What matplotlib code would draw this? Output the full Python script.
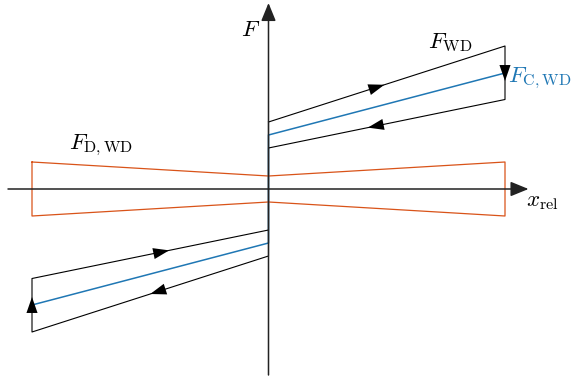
import numpy as np
import matplotlib
matplotlib.use('Agg')
import matplotlib.pyplot as plt

plt.rcParams['mathtext.fontset'] = 'cm'

# relative displacement (normalised stroke) and friction forces
x_pos = [0.0, 1.0]
wd_upper = [0.67, 1.43]     # loading branch of F_WD
wd_lower = [0.41, 0.895]    # unloading branch of F_WD
coulomb = [0.54, 1.16]      # F_C,WD
damping = [0.13, 0.27]      # half-width of F_D,WD

blue = '#1f77b4'
orange = '#D95319'

fig = plt.figure(figsize=(5.77, 3.77), dpi=100)
ax = fig.add_axes([0, 0, 1, 1])
ax.set_xlim(-268.5 / 236.5, (577 - 268.5) / 236.5)
ax.set_ylim(-(377 - 189) / 100, 189 / 100)
ax.axis('off')

x1 = x_pos[1]

# Coulomb part: point symmetric line through the origin jump
ax.plot([-x1, 0, 0, x1], [-coulomb[1], -coulomb[0], coulomb[0], coulomb[1]],
        color=blue, lw=1.1, zorder=2)

# hysteresis loop of the wet damper force
loop_x = [0, x1, x1, 0, 0, -x1, -x1, 0, 0]
loop_y = [wd_upper[0], wd_upper[1], wd_lower[1], wd_lower[0],
          -wd_upper[0], -wd_upper[1], -wd_lower[1], -wd_lower[0], wd_upper[0]]
ax.plot(loop_x, loop_y, color='black', lw=0.8, zorder=3)

# damping bow-tie
bx = [-x1, 0, x1, x1, 0, -x1, -x1]
by = [damping[1], damping[0], damping[1], -damping[1], -damping[0], -damping[1], damping[1]]
ax.plot(bx, by, color=orange, lw=0.9, zorder=3)


def head(p0, p1, t):
    # arrow head with its tip at fraction t of segment p0 -> p1
    p0 = np.array(p0); p1 = np.array(p1)
    tip = p0 + t * (p1 - p0)
    back = tip - 0.02 * (p1 - p0) / np.linalg.norm(p1 - p0)
    ax.annotate('', xy=tip, xytext=back,
                arrowprops=dict(arrowstyle='-|>,head_length=11.5,head_width=4.0',
                                mutation_scale=1, color='black', lw=0,
                                shrinkA=0, shrinkB=0), zorder=5)


# direction arrows on the loop
t_vert = (wd_upper[1] - coulomb[1] + 0.08) / (wd_upper[1] - wd_lower[1])
head((0, wd_upper[0]), (x1, wd_upper[1]), 0.49)
head((x1, wd_lower[1]), (0, wd_lower[0]), 0.58)
head((x1, wd_upper[1]), (x1, wd_lower[1]), t_vert)
head((0, -wd_upper[0]), (-x1, -wd_upper[1]), 0.50)
head((-x1, -wd_lower[1]), (0, -wd_lower[0]), 0.58)
head((-x1, -wd_upper[1]), (-x1, -wd_lower[1]), t_vert)

# coordinate axes
axis_col = '#222222'
ax.annotate('', xy=(260 / 236.5, 0), xytext=(-260.5 / 236.5, 0),
            arrowprops=dict(arrowstyle='-|>,head_length=11,head_width=4.5',
                            mutation_scale=1, color=axis_col, lw=1.1,
                            shrinkA=0, shrinkB=0), zorder=6)
ax.annotate('', xy=(0, 1.86), xytext=(0, -1.86),
            arrowprops=dict(arrowstyle='-|>,head_length=11,head_width=4.5',
                            mutation_scale=1, color=axis_col, lw=1.1,
                            shrinkA=0, shrinkB=0), zorder=6)

fs = 16.5
ax.text(-0.074, 1.60, r'$F$', fontsize=fs, ha='center', va='center')
ax.text(258 / 236.5, -0.11, r'$x_{\mathrm{rel}}$', fontsize=fs, ha='left', va='center')
ax.text(181.5 / 236.5, 1.47, r'$F_{\mathrm{WD}}$', fontsize=fs, ha='center', va='center')
ax.text(240 / 236.5, 1.11, r'$F_{\mathrm{C,WD}}$', fontsize=fs, ha='left', va='center', color=blue)
ax.text(-168 / 236.5, 0.44, r'$F_{\mathrm{D,WD}}$', fontsize=fs, ha='center', va='center')

fig.savefig('out.png', dpi=100)
